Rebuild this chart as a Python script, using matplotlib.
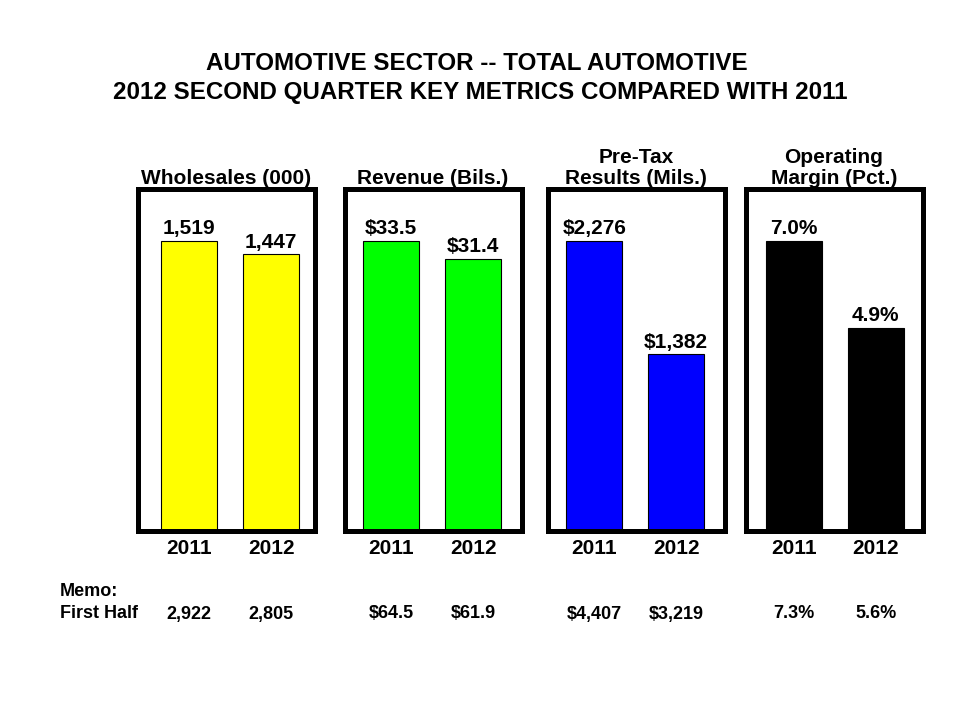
import matplotlib
matplotlib.use("Agg")
import matplotlib.pyplot as plt
from matplotlib.transforms import blended_transform_factory

plt.rcParams['font.family'] = ['Liberation Sans', 'DejaVu Sans']
plt.rcParams['font.weight'] = 'bold'

title_lines = ["AUTOMOTIVE SECTOR -- TOTAL AUTOMOTIVE",
               "2012 SECOND QUARTER KEY METRICS COMPARED WITH 2011"]
panel_titles = ["Wholesales (000)", "Revenue (Bils.)",
                "Pre-Tax\nResults (Mils.)", "Operating\nMargin (Pct.)"]
years = ["2011", "2012"]
wholesales = [1519, 1447]
revenue = [33.5, 31.4]
pretax = [2276, 1382]
margin = [7.0, 4.9]
wholesales_lbl = ["1,519", "1,447"]
revenue_lbl = ["$33.5", "$31.4"]
pretax_lbl = ["$2,276", "$1,382"]
margin_lbl = ["7.0%", "4.9%"]
memo_wholesales = ["2,922", "2,805"]
memo_revenue = ["$64.5", "$61.9"]
memo_pretax = ["$4,407", "$3,219"]
memo_margin = ["7.3%", "5.6%"]
colors = ["#FFFF00", "#00FF00", "#0000FF", "#000000"]

series = [wholesales, revenue, pretax, margin]
labels = [wholesales_lbl, revenue_lbl, pretax_lbl, margin_lbl]
memos = [memo_wholesales, memo_revenue, memo_pretax, memo_margin]

W, H = 960, 720
fig = plt.figure(figsize=(W / 100, H / 100), dpi=100)
fig.patch.set_facecolor("white")

lefts = [137.5, 344.5, 547.5, 745.5]
xlefts = [-0.63, -0.57, -0.57, -0.59]
pw = 177
span = 2.16
top_px, bot_px = 189, 530.5

fig.text(477 / W, 1 - 63 / H, title_lines[0], ha="center", va="center",
         fontsize=17.4, fontweight="bold")
fig.text(480 / W, 1 - 93 / H, title_lines[1], ha="center", va="center",
         fontsize=17.4, fontweight="bold")

for i in range(4):
    ax = fig.add_axes([lefts[i] / W, 1 - bot_px / H, pw / W, (bot_px - top_px) / H])
    x = [0, 1]
    vals = series[i]
    ax.bar(x, vals, width=0.68, color=colors[i], edgecolor="black", linewidth=0.8, zorder=2)
    ax.set_xlim(xlefts[i], xlefts[i] + span)
    ax.set_ylim(0, max(vals) * 1.178)
    for s in ax.spines.values():
        s.set_linewidth(3.6)
        s.set_color("black")
    ax.set_yticks([])
    ax.set_xticks(x)
    ax.set_xticklabels(years, fontsize=15, fontweight="bold")
    ax.tick_params(axis="x", length=0, pad=6)
    ax.set_title(panel_titles[i], fontsize=15, fontweight="bold", pad=3.5,
                 linespacing=1.12)
    for xi, v, lb in zip(x, vals, labels[i]):
        ax.annotate(lb, (xi, v), xytext=(0, 2), textcoords="offset points",
                    ha="center", va="bottom", fontsize=15, fontweight="bold")
    tr = blended_transform_factory(ax.transData, fig.transFigure)
    for xi, m in zip(x, memos[i]):
        ax.text(xi, 1 - 614 / H, m, transform=tr, ha="center", va="center",
                fontsize=13, fontweight="bold")

fig.text(60 / W, 1 - 591 / H, "Memo:", ha="left", va="center", fontsize=13, fontweight="bold")
fig.text(60 / W, 1 - 614 / H, "First Half", ha="left", va="center", fontsize=13, fontweight="bold")

fig.savefig("out.png", dpi=100, facecolor="white")
